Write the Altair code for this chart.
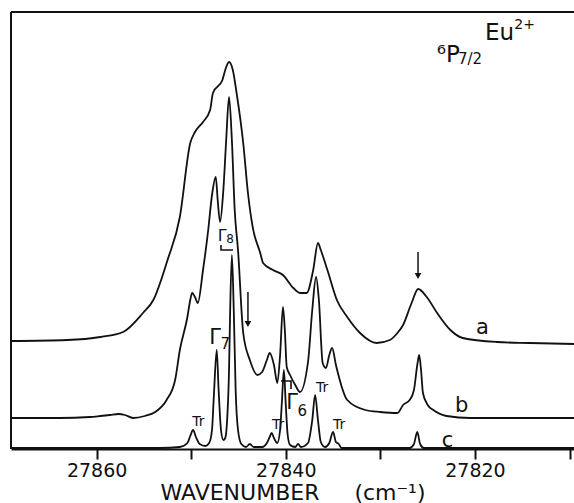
import altair as alt
import pandas as pd

# ---- spectra (wavenumber in cm-1, relative intensity) ----
a_wn = [27869.05, 27863.1, 27859.6, 27857.2, 27855.1, 27854.0, 27852.5, 27851.2, 27850.1, 27849.6,
        27848.75, 27848.0, 27847.7, 27846.7, 27846.4, 27846.0, 27845.6, 27845.2, 27844.5, 27844.0,
        27843.5, 27842.7, 27842.4, 27841.35, 27840.3, 27839.2, 27838.5, 27837.8, 27837.1, 27836.6,
        27836.3, 27835.6, 27834.6, 27833.5, 27832.15, 27830.4, 27829.0, 27828.2, 27827.6, 27826.7,
        27826.0, 27825.1, 27824.0, 27822.6, 27821.3, 27817.7, 27814.2, 27809.5]
a_int = [108, 109, 112, 117, 136, 149, 189, 232, 306, 317,
         327, 339, 356, 369, 379, 387, 379, 356, 306, 256,
         222, 196, 186, 179, 174, 161, 156, 156, 179, 206,
         199, 179, 149, 132, 116, 106, 109, 116, 124, 146,
         160, 152, 136, 119, 111, 107, 106, 105]

b_wn = [27869.05, 27863.9, 27860.7, 27859.6, 27858.6, 27857.7, 27857.0, 27856.15, 27854.9, 27853.8,
        27852.6, 27851.7, 27851.2, 27850.4, 27850.1, 27849.9, 27849.6, 27849.3, 27848.75, 27848.2,
        27847.8, 27847.4, 27847.2, 27846.95, 27846.6, 27846.3, 27846.0, 27845.7, 27845.4, 27845.05,
        27844.5, 27843.8, 27843.0, 27842.5, 27842.0, 27841.7, 27841.25, 27840.9, 27840.6, 27840.3,
        27840.1, 27839.9, 27839.55, 27839.0, 27838.5, 27837.65, 27837.2, 27836.8, 27836.5, 27836.1,
        27835.75, 27835.4, 27835.1, 27834.7, 27833.5, 27831.6, 27830.0, 27828.2, 27827.6, 27826.9,
        27826.45, 27826.1, 27825.9, 27825.7, 27825.5, 27825.0, 27824.4, 27823.0, 27820.5, 27809.5]
b_int = [31, 31, 32, 33, 34, 35, 34, 31, 33, 37,
         49, 69, 99, 132, 149, 156, 152, 146, 179, 219,
         254, 272, 249, 227, 259, 309, 352, 309, 239, 199,
         116, 89, 74, 77, 89, 96, 84, 66, 94, 142,
         119, 82, 74, 64, 57, 87, 139, 172, 149, 86,
         81, 94, 101, 84, 49, 39, 37, 36, 44, 49,
         59, 84, 94, 79, 56, 44, 39, 33, 31, 31]

c_wn = [27869.05, 27853.3, 27851.2, 27850.4, 27850.1, 27849.8, 27849.5, 27849.1, 27848.5, 27848.1,
        27847.8, 27847.6, 27847.3, 27847.1, 27846.85, 27846.6, 27846.4, 27846.2, 27846.0, 27845.9,
        27845.7, 27845.5, 27845.3, 27845.05, 27844.7, 27844.2, 27843.8, 27843.4, 27842.5, 27842.0,
        27841.7, 27841.5, 27841.25, 27840.9, 27840.6, 27840.4, 27840.2, 27840.0, 27839.8, 27839.55,
        27839.0, 27838.7, 27838.4, 27837.65, 27837.2, 27836.9, 27836.6, 27836.3, 27835.85, 27835.4,
        27835.0, 27834.7, 27834.4, 27834.1, 27826.9, 27826.45, 27826.1, 27825.8, 27825.4, 27809.5]
c_int = [1, 1, 2, 6, 13, 19, 12, 5, 3, 6,
         19, 54, 99, 59, 19, 9, 11, 29, 79, 129,
         194, 139, 59, 19, 5, 2, 5, 2, 2, 6,
         12, 16, 11, 6, 19, 49, 79, 44, 14, 4,
         2, 5, 2, 6, 29, 54, 29, 7, 2, 6,
         17, 7, 5, 1, 1, 5, 17, 5, 1, 1]

# ---- axis ticks ----
tick_values = [27860, 27850, 27840, 27830, 27820, 27810]

# ---- annotations (text, wavenumber, intensity, font size) ----
ann_text = ["a", "b", "c", "Tr", "Tr", "Tr", "Tr",
            "Γ", "7", "Γ", "8", "Γ", "6",
            "Eu", "2+", "⁶P", "7/2"]
ann_wn = [27819.9, 27822.1, 27823.5, 27849.9, 27841.46, 27836.8, 27835.0,
          27848.1, 27846.9, 27847.2, 27846.3, 27839.95, 27838.75,
          27818.94, 27815.85, 27824.05, 27821.8]
ann_int = [121, 43, 8, 27, 24, 61, 24,
           111, 105, 213, 210, 46, 38,
           416, 424, 394, 390]
ann_size = [21, 21, 21, 14, 14, 14, 14,
            21, 15, 16, 12, 21, 15,
            23, 14, 23, 15]

# arrows (wavenumber, top intensity, tip intensity)
arrow_wn = [27844.0, 27826.02]
arrow_top = [157, 197]
arrow_tip = [121, 169]

# bracket marks near Γ8 and Γ6
br_group = ["g8", "g8", "g8", "g6", "g6", "g6"]
br_wn = [27846.85, 27846.85, 27845.58, 27840.5, 27839.45, 27839.45]
br_int = [204, 199, 199, 68, 68, 60]

# ---- tables ----
rows = []
for name, ws, vs in (("a", a_wn, a_int), ("b", b_wn, b_int), ("c", c_wn, c_int)):
    for i, (w, v) in enumerate(zip(ws, vs)):
        rows.append({"series": name, "idx": i, "wn": w, "I": v})
spec = pd.DataFrame(rows)
ann = pd.DataFrame({"t": ann_text, "wn": ann_wn, "I": ann_int, "fs": ann_size})
arr = pd.DataFrame({"wn": arrow_wn, "top": arrow_top, "tip": arrow_tip})
arr["head"] = arr["tip"] + 4
br = pd.DataFrame({"g": br_group, "wn": br_wn, "I": br_int, "idx": range(len(br_group))})

FONT = "DejaVu Sans"
NB = "\u00a0"
xscale = alt.Scale(domain=[27869.05, 27809.53], nice=False, zero=False)
yscale = alt.Scale(domain=[0, 437], nice=False, zero=False)

xaxis = alt.Axis(
    values=tick_values, format="d",
    labelExpr="datum.value % 20 == 0 ? datum.label : ''",
    tickSize=10, tickWidth=2, tickColor="#111",
    domainWidth=2, domainColor="#111",
    labelFont=FONT, labelFontSize=19, labelColor="#111", labelPadding=2,
    labelFlush=False, labelOverlap=False,
    title="WAVENUMBER" + NB * 5 + "(cm⁻¹)", titleFont=FONT, titleFontSize=22,
    titleFontWeight="normal", titleColor="#111", titlePadding=2,
    grid=False,
)

x_enc = alt.X("wn:Q", scale=xscale, axis=xaxis)
y_enc = alt.Y("I:Q", scale=yscale, axis=None)

lines = alt.Chart(spec).mark_line(
    interpolate="monotone", color="#111", strokeWidth=1.8, clip=True
).encode(x=x_enc, y=y_enc, detail="series:N", order="idx:Q")

texts = alt.Chart(ann).mark_text(
    font=FONT, color="#111", align="left", baseline="middle"
).encode(
    x=alt.X("wn:Q", scale=xscale),
    y=alt.Y("I:Q", scale=yscale),
    text="t:N",
    size=alt.Size("fs:Q", scale=None),
)

arrow_shafts = alt.Chart(arr).mark_rule(color="#111", strokeWidth=1.5).encode(
    x=alt.X("wn:Q", scale=xscale),
    y=alt.Y("top:Q", scale=yscale),
    y2="head:Q",
)
arrow_heads = alt.Chart(arr).mark_point(
    shape="triangle-down", filled=True, color="#111", size=45, opacity=1
).encode(
    x=alt.X("wn:Q", scale=xscale),
    y=alt.Y("head:Q", scale=yscale),
)

brackets = alt.Chart(br).mark_line(color="#111", strokeWidth=1.6).encode(
    x=alt.X("wn:Q", scale=xscale),
    y=alt.Y("I:Q", scale=yscale),
    detail="g:N",
    order="idx:Q",
)

frame_left = alt.Chart(ann).mark_rule(color="#111", strokeWidth=2).encode(
    x=alt.value(0), y=alt.value(0), y2=alt.value(437)
)
frame_top = alt.Chart(ann).mark_rule(color="#111", strokeWidth=2).encode(
    x=alt.value(0), x2=alt.value(563), y=alt.value(0)
)

chart = alt.layer(
    lines, brackets, arrow_shafts, arrow_heads, texts, frame_left, frame_top
).properties(
    width=563, height=437,
    autosize=alt.AutoSizeParams(type="none"),
    padding={"left": 11, "top": 12, "right": 0, "bottom": 54},
    background="white",
).configure_view(stroke=None)

chart.save("out.html", embed_options={"renderer": "svg", "actions": False})
